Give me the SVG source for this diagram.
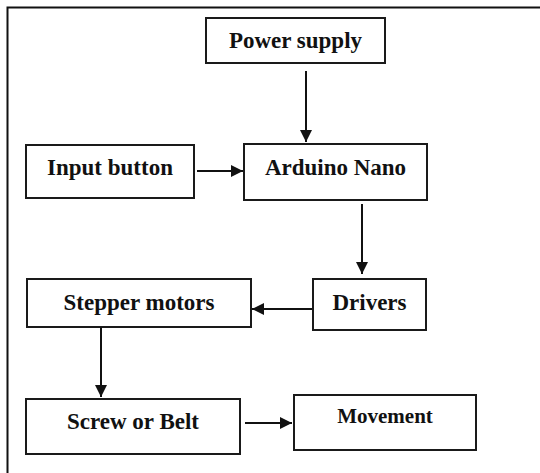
<svg xmlns="http://www.w3.org/2000/svg" width="540" height="473" viewBox="0 0 540 473">
<defs>
<style>
.box{fill:#fff;stroke:#1a1a1a;stroke-width:2}
.lbl{font-family:"Liberation Serif","Times New Roman",serif;font-weight:bold;font-size:23px;fill:#111;text-anchor:middle}
.sm{font-size:21px}
.con{stroke:#111;stroke-width:2;fill:none;marker-end:url(#ah)}
</style>
<marker id="ah" markerUnits="userSpaceOnUse" markerWidth="12" markerHeight="12" refX="12" refY="6" orient="auto">
<path d="M0,0 L12,6 L0,12 z" fill="#111"/>
</marker>
</defs>
<rect width="540" height="473" fill="#fff"/>
<path d="M7.5,473 V7.5 H540" fill="none" stroke="#111" stroke-width="2"/>
<g id="power"><rect class="box" x="206" y="18" width="179" height="45"/><text class="lbl" x="295.5" y="48">Power supply</text></g>
<g id="input"><rect class="box" x="26" y="145" width="168" height="53"/><text class="lbl" x="110" y="175">Input button</text></g>
<g id="arduino"><rect class="box" x="244" y="144" width="183" height="56"/><text class="lbl" x="335.5" y="175">Arduino Nano</text></g>
<g id="stepper"><rect class="box" x="27" y="279" width="224" height="48"/><text class="lbl" x="139" y="310">Stepper motors</text></g>
<g id="drivers"><rect class="box" x="313" y="279" width="113" height="51"/><text class="lbl" x="369.5" y="310">Drivers</text></g>
<g id="screw"><rect class="box" x="26" y="399" width="214" height="55"/><text class="lbl" x="133" y="429">Screw or Belt</text></g>
<g id="movement"><rect class="box" x="294" y="395" width="182" height="55"/><text class="lbl sm" x="385" y="423">Movement</text></g>
<g id="connectors">
<line class="con" x1="306" y1="71" x2="306" y2="142"/>
<line class="con" x1="197" y1="171" x2="243" y2="171"/>
<line class="con" x1="362" y1="204" x2="362" y2="274"/>
<line class="con" x1="312" y1="309" x2="252" y2="309"/>
<line class="con" x1="101" y1="327" x2="101" y2="397"/>
<line class="con" x1="245" y1="423" x2="292" y2="423"/>
</g>
</svg>
